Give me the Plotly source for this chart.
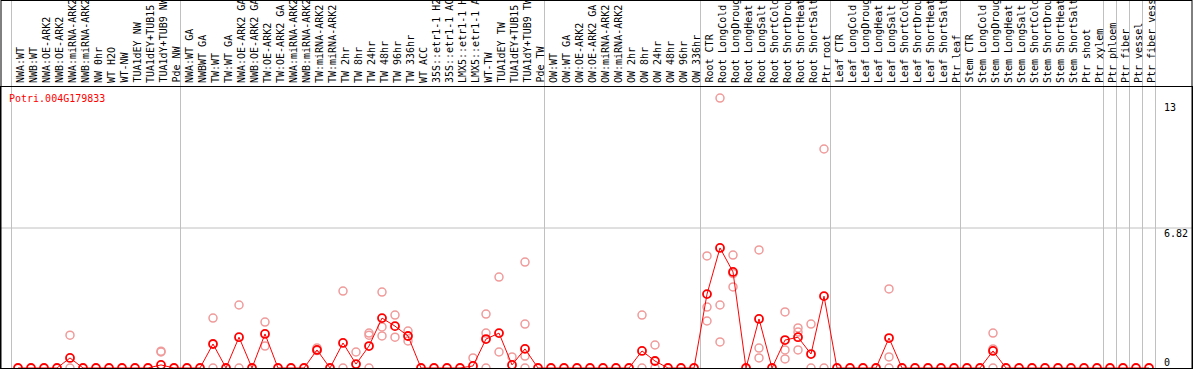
import plotly.graph_objects as go

categories = [
    "NWA:WT", "NWB:WT", "NWA:OE-ARK2", "NWB:OE-ARK2", "NWA:miRNA-ARK2", "NWB:miRNA-ARK2",
    "NW 0hr", "WT H2O", "WT-NW", "TUA1dEY NW", "TUA1dEY+TUB15", "TUA1dY+TUB9 NW", "Pde NW",
    "NWA:WT GA", "NWBWT GA", "TW:WT", "TW:WT GA", "NWA:OE-ARK2 GA", "NWB:OE-ARK2 GA",
    "TW:OE-ARK2", "TW:OE-ARK2 GA", "NWA:miRNA-ARK2", "NWB:miRNA-ARK2", "TW:miRNA-ARK2",
    "TW:miRNA-ARK2", "TW 2hr", "TW 8hr", "TW 24hr", "TW 48hr", "TW 96hr", "TW 336hr",
    "WT ACC", "35S::etr1-1 H2", "35S::etr1-1 AC", "LMX5::etr1-1 H", "LMX5::etr1-1 A",
    "WT-TW", "TUA1dEY TW", "TUA1dEY+TUB15", "TUA1dY+TUB9 TW", "Pde TW",
    "OW:WT", "OW:WT GA", "OW:OE-ARK2", "OW:OE-ARK2 GA", "OW:miRNA-ARK2", "OW:miRNA-ARK2",
    "OW 2hr", "OW 8hr", "OW 24hr", "OW 48hr", "OW 96hr", "OW 336hr",
    "Root CTR", "Root LongCold", "Root LongDroug", "Root LongHeat", "Root LongSalt",
    "Root ShortCold", "Root ShortDrou", "Root ShortHeat", "Root ShortSalt", "Ptr root",
    "Leaf CTR", "Leaf LongCold", "Leaf LongDroug", "Leaf LongHeat", "Leaf LongSalt",
    "Leaf ShortCold", "Leaf ShortDrou", "Leaf ShortHeat", "Leaf ShortSalt", "Ptr leaf",
    "Stem CTR", "Stem LongCold", "Stem LongDroug", "Stem LongHeat", "Stem LongSalt",
    "Stem ShortCold", "Stem ShortDrou", "Stem ShortHeat", "Stem ShortSalt", "Ptr shoot",
    "Ptr xylem", "Ptr phloem", "Ptr fiber", "Ptr vessel", "Ptr fiber vess",
]

mean_values = [
    0, 0, 0, 0, 0.49, 0, 0, 0, 0, 0, 0, 0.15, 0,
    0, 0, 1.17, 0, 1.5, 0, 1.66, 0, 0, 0, 0.88, 0, 1.22, 0.19, 1.07, 2.43, 2.04, 1.56,
    0, 0, 0, 0, 0.1, 1.41, 1.7, 0.15, 0.93, 0,
    0, 0, 0, 0, 0, 0, 0, 0.83, 0.34, 0, 0, 0,
    3.6, 5.85, 4.68, 0, 2.39, 0, 1.36, 1.5, 0.68, 3.5,
    0, 0, 0, 0, 1.46, 0, 0, 0, 0, 0,
    0, 0, 0.83, 0, 0, 0, 0, 0, 0, 0,
    0, 0, 0, 0, 0,
]

rep_index = [4, 4, 11, 11, 15, 15, 17, 17, 19, 19, 23, 23, 25, 25, 26,
             27, 27, 27, 28, 28, 28, 29, 29, 30, 30, 35, 36, 36, 36, 37, 37, 38,
             39, 39, 39, 39, 48, 48, 49, 49, 53, 53, 53, 54, 54, 54, 55, 55, 55,
             57, 57, 57, 59, 59, 59, 60, 60, 60, 61, 61, 62, 62, 67, 67, 67, 75, 75, 75]
rep_values = [1.6, 0, 0.78, 0.82, 2.43, 0, 3.07, 0, 2.24, 1.07, 0.98, 0.85, 3.75, 0, 0.78,
              1.7, 1.6, 0, 3.7, 2.0, 1.56, 2.58, 1.5, 1.8, 1.32, 0.49, 2.63, 1.7, 0, 4.43, 0.78, 0.54,
              5.16, 2.14, 0.58, 0, 2.58, 0, 1.12, 0, 5.46, 2.97, 2.29, 13.15, 3.07, 1.27, 5.5, 3.95, 4.6,
              5.75, 0.97, 0.49, 2.73, 0.88, 0.44, 1.95, 1.75, 0.88, 2.14, 0, 10.67, 0, 3.85, 0.54, 0, 1.7, 0.93, 0]

group_bounds = [-0.5, 12.5, 40.5, 52.5, 62.5, 72.5, 83.5, 84.5, 85.5, 86.5, 87.5]
gene_name = "Potri.004G179833"
axis_labels = ["13", "6.82", "0"]
axis_label_values = [13, 6.82, 0]
grid_value = 6.82

W, H = 1194, 370
ML, MR, MT, MB = 1, 2, 87, 2
plot_w = W - ML - MR
plot_h = H - MT - MB
x0_px, step_px = 18, 13
xmin = -(x0_px - ML) / step_px
xmax = xmin + plot_w / step_px
ymax = 13.69
top_paper = 1 + MT / plot_h

FONT = "DejaVu Sans Mono"
x_idx = list(range(len(categories)))

fig = go.Figure()
fig.add_trace(go.Scatter(
    x=rep_index, y=rep_values, mode="markers",
    marker=dict(symbol="circle-open", size=8, color="#f09a9a", line=dict(width=1.5, color="#f09a9a")),
    hoverinfo="skip", showlegend=False,
))
fig.add_trace(go.Scatter(
    x=x_idx, y=mean_values, mode="lines+markers",
    line=dict(color="#ff0000", width=1),
    marker=dict(symbol="circle-open", size=8, color="#ff0000", line=dict(width=1.8, color="#ff0000")),
    showlegend=False,
))

shapes = []
for b in group_bounds:
    shapes.append(dict(type="line", xref="x", yref="paper", x0=b, x1=b, y0=0, y1=top_paper + 0.01,
                       line=dict(color="#c0c0c0", width=1), layer="below"))
shapes.append(dict(type="line", xref="paper", yref="y", x0=0, x1=1, y0=grid_value, y1=grid_value,
                   line=dict(color="#c0c0c0", width=1), layer="below"))
# outer frame over label area
shapes.append(dict(type="line", xref="paper", yref="paper", x0=0, x1=1, y0=top_paper - 0.5 / plot_h,
                   y1=top_paper - 0.5 / plot_h, line=dict(color="black", width=1)))
shapes.append(dict(type="line", xref="paper", yref="paper", x0=0, x1=0, y0=0, y1=top_paper,
                   line=dict(color="black", width=1)))
shapes.append(dict(type="line", xref="paper", yref="paper", x0=1, x1=1, y0=0, y1=top_paper,
                   line=dict(color="black", width=1)))

annotations = [dict(text=gene_name, xref="paper", yref="paper", x=(7 - ML) / plot_w, y=(H - MB - 98) / plot_h,
                    xanchor="left", yanchor="middle", showarrow=False,
                    font=dict(family=FONT, size=10, color="#ff0000"))]
label_shift = [-6, -5, 5.5]
for t, v, s in zip(axis_labels, axis_label_values, label_shift):
    annotations.append(dict(text=t, xref="paper", yref="y", x=(1162 - ML) / plot_w, y=v, yshift=s,
                            xanchor="left", yanchor="middle", showarrow=False,
                            font=dict(family=FONT, size=10, color="black")))
for i, c in zip(x_idx, categories):
    annotations.append(dict(text=c, xref="x", yref="paper", x=i, y=1, yshift=3, xshift=2, textangle=-90,
                            xanchor="center", yanchor="bottom", showarrow=False, borderpad=0,
                            font=dict(family=FONT, size=10, color="black")))

fig.update_layout(
    width=W, height=H,
    margin=dict(l=ML, r=MR, t=MT, b=MB, pad=0),
    paper_bgcolor="white", plot_bgcolor="white",
    shapes=shapes, annotations=annotations,
    xaxis=dict(range=[xmin, xmax], showticklabels=False, ticks="",
               showgrid=False, zeroline=False, showline=True, mirror=True, linecolor="black",
               linewidth=1, automargin=False, fixedrange=True),
    yaxis=dict(range=[0, ymax], showticklabels=False, ticks="", showgrid=False, zeroline=False,
               showline=True, mirror=True, linecolor="black", linewidth=1, automargin=False),
    showlegend=False,
)

fig.write_html("out.html", config={"displayModeBar": False},
               post_script="document.body.style.margin='0';document.body.style.overflow='hidden';")
